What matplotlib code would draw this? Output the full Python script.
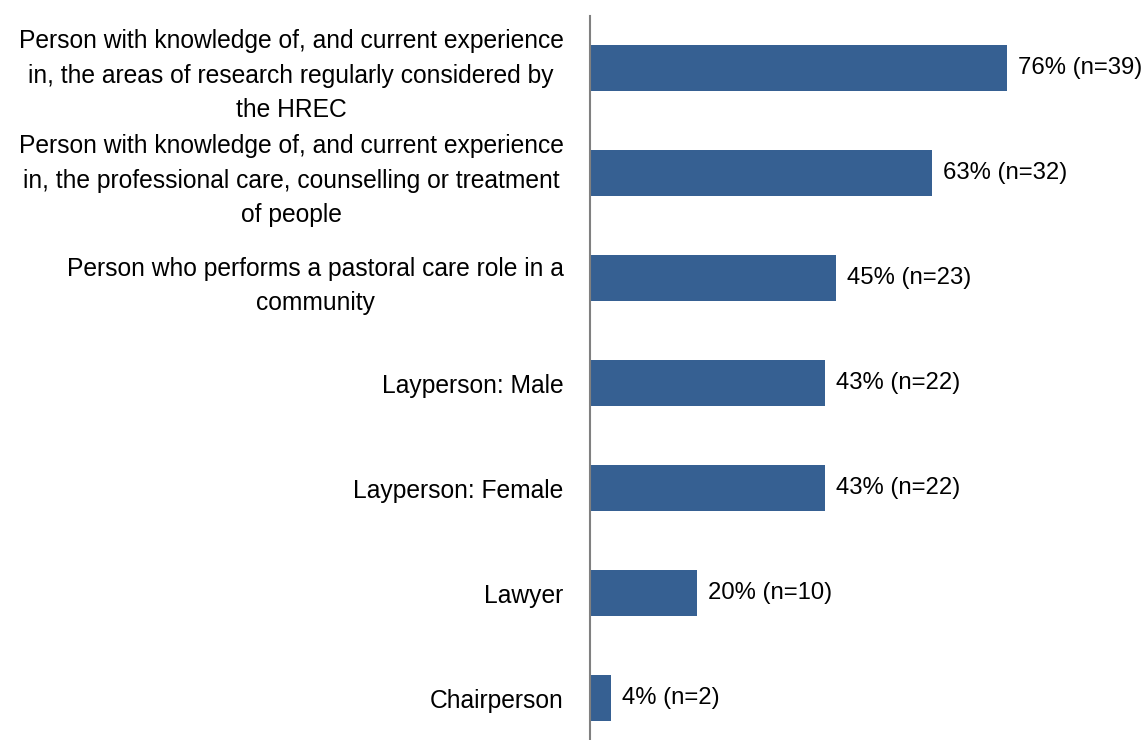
import matplotlib.pyplot as plt

# --- Data ---
categories = [
    "Person with knowledge of, and current experience\nin, the areas of research regularly considered by\nthe HREC",
    "Person with knowledge of, and current experience\nin, the professional care, counselling or treatment\nof people",
    "Person who performs a pastoral care role in a\ncommunity",
    "Layperson: Male",
    "Layperson: Female",
    "Lawyer",
    "Chairperson",
]
counts = [39, 32, 23, 22, 22, 10, 2]
total_respondents = 51  # percentages shown are n / 51
percents = [n / total_respondents * 100 for n in counts]

bar_color = "#366092"
plt.rcParams['font.family'] = ['Liberation Sans', 'DejaVu Sans']

# --- Plotting ---
fig = plt.figure(figsize=(11.45, 7.4), dpi=100)
ax = fig.add_axes([590 / 1145, -10.5 / 740, 549 / 1145, 735 / 740])

ypos = list(range(len(categories)))
ax.barh(ypos, percents, height=0.44, color=bar_color)
ax.set_ylim(len(categories) - 0.5, -0.5)
ax.set_xlim(0, 100.7)

for y, p, n in zip(ypos, percents, counts):
    ax.annotate(f"{p:.0f}% (n={n})", (p, y), xytext=(8, 0), textcoords="offset points",
                va="center", ha="left", fontsize=17.2)

ax.set_yticks(ypos)
ax.set_yticklabels(categories, fontsize=17.7, multialignment="center", linespacing=1.55)
ax.tick_params(axis="y", length=0, pad=19)
ax.set_xticks([])

for side in ["top", "right", "bottom"]:
    ax.spines[side].set_visible(False)
ax.spines["left"].set_color("#808080")
ax.spines["left"].set_linewidth(1.5)

fig.savefig("out.png", dpi=100)
